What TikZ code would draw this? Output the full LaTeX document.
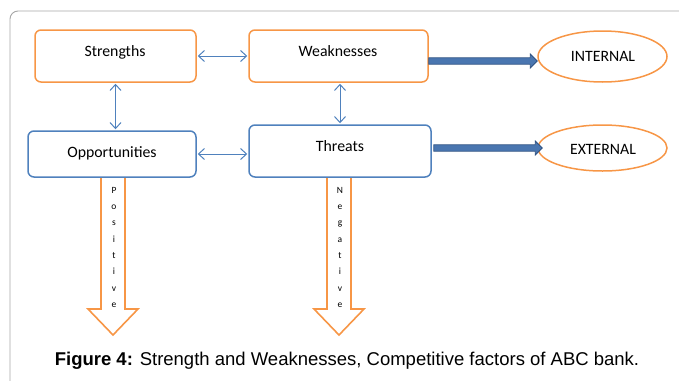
\documentclass[tikz,border=0pt]{standalone}
\usepackage{fontspec}
\setmainfont{Carlito}
\newfontfamily\capfont{Liberation Sans}
\usetikzlibrary{arrows.meta,calc,shapes.geometric}
\definecolor{offorange}{HTML}{F79646}
\definecolor{offblue}{HTML}{4F81BD}
\definecolor{arrfill}{HTML}{4A76B0}
\definecolor{arrline}{HTML}{2F5282}
\definecolor{framegray}{HTML}{A6A6A6}
\tikzset{
  obox/.style={draw=offorange,line width=1.5pt,rounded corners=6pt,fill=white,inner sep=0pt},
  bbox/.style={draw=offblue,line width=1.5pt,rounded corners=6pt,fill=white,inner sep=0pt},
  oell/.style={draw=offorange,line width=1.5pt,ellipse,inner sep=0pt},
  lbl/.style={font=\fontsize{15.8}{17}\selectfont,anchor=base,inner sep=0pt},
  dbl/.style={draw=offblue,line width=1pt,{Straight Barb[length=6pt,width=11pt]}-{Straight Barb[length=6pt,width=11pt]}},
  bigarr/.style={fill=arrfill,draw=arrline,line width=0.8pt,line join=miter},
  downarr/.style={fill=white,draw=offorange,line width=1.6pt,line join=miter},
  vlet/.style={font=\fontsize{9.5}{16.3}\selectfont,align=center,anchor=north,inner sep=0pt}
}
\begin{document}
\begin{tikzpicture}[x=1pt,y=-1pt]
\useasboundingbox (0,0) rectangle (679,380);
% outer frame
\draw[framegray,line width=0.9pt,rounded corners=8pt] (10,390) -- (10,11) -- (690,11);

% orange down arrows (drawn first)
\coordinate (pa) at (113,177);
\coordinate (na) at (339,177);
\draw[downarr] ($(pa)+(-12,0)$) -- ($(pa)+(-12,132)$) -- ($(pa)+(-25,132)$) -- ($(pa)+(0,158)$) -- ($(pa)+(25,132)$) -- ($(pa)+(12,132)$) -- ($(pa)+(12,0)$) -- cycle;
\draw[downarr] ($(na)+(-12,0)$) -- ($(na)+(-12,132)$) -- ($(na)+(-25,132)$) -- ($(na)+(0,158)$) -- ($(na)+(25,132)$) -- ($(na)+(12,132)$) -- ($(na)+(12,0)$) -- cycle;
\node[vlet] (pos) at ($(pa)+(1,10)$) {P\\o\\s\\i\\t\\i\\v\\e};
\node[vlet] (neg) at ($(na)+(1,10)$) {N\\e\\g\\a\\t\\i\\v\\e};

% boxes
\node[obox,minimum width=161pt,minimum height=52pt] (S) at (115.5,56) {};
\node[obox,minimum width=179pt,minimum height=52pt] (W) at (338.5,56) {};
\node[bbox,minimum width=168pt,minimum height=46pt] (O) at (112,154) {};
\node[bbox,minimum width=182pt,minimum height=52pt] (T) at (340,151) {};
\node[oell,minimum width=129pt,minimum height=51pt] (I) at (602.5,56.5) {};
\node[oell,minimum width=129pt,minimum height=46pt] (E) at (602.5,148) {};

\node[lbl] (St) at (115,56.5) {Strengths};
\node[lbl] (Wt) at (338,56.5) {Weaknesses};
\node[lbl] (Ot) at (112,157) {Opportunities};
\node[lbl] (Tt) at (340,151) {Threats};
\node[lbl] (It) at (603,61.5) {INTERNAL};
\node[lbl] (Et) at (603,154) {EXTERNAL};

% double arrows
\draw[dbl] ([xshift=1pt]S.east) -- ([xshift=-1pt]W.west);
\draw[dbl] ([yshift=-1pt]S.south) -- ([yshift=1pt]S.south |- O.north);
\draw[dbl] ([yshift=-1pt]W.south -| T.north) -- ([yshift=1pt]T.north);
\draw[dbl] ([xshift=1pt]O.east) -- ([xshift=-1pt]O.east -| T.west);

% thick arrows
\draw[bigarr] let \p1=([yshift=-5pt]W.east), \p2=(I.west) in
  (\x1,\y1+3.2pt) -- (\x2-7pt,\y1+3.2pt) -- (\x2-7pt,\y1+7pt) -- (\x2,\y1) -- (\x2-7pt,\y1-7pt) -- (\x2-7pt,\y1-3.2pt) -- (\x1,\y1-3.2pt) -- cycle;
\draw[bigarr] let \p1=([yshift=3pt,xshift=2pt]T.east), \p2=([xshift=5pt]E.west) in
  (\x1,\y1+3.2pt) -- (\x2-7pt,\y1+3.2pt) -- (\x2-7pt,\y1+7pt) -- (\x2,\y1) -- (\x2-7pt,\y1-7pt) -- (\x2-7pt,\y1-3.2pt) -- (\x1,\y1-3.2pt) -- cycle;

% caption
\node[font=\capfont\fontsize{18.5}{20}\selectfont,anchor=base,inner sep=0pt] (cap) at (347,365) {\textbf{Figure 4:} Strength and Weaknesses, Competitive factors of ABC bank.};
\end{tikzpicture}
\end{document}
